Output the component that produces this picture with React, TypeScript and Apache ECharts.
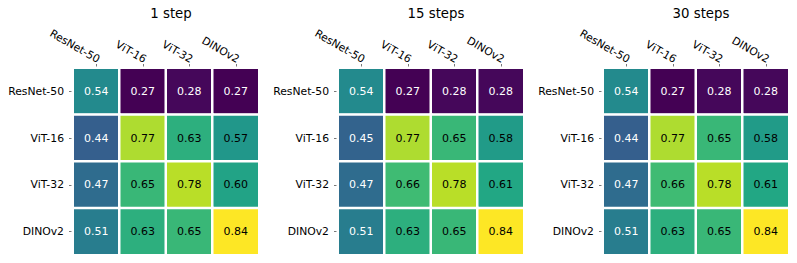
import React, { useEffect, useRef } from "react";
import * as echarts from "echarts";

const models = ["ResNet-50", "ViT-16", "ViT-32", "DINOv2"];
const titles = ["1 step", "15 steps", "30 steps"];

const step1 = [
  [0.54, 0.27, 0.28, 0.27],
  [0.44, 0.77, 0.63, 0.57],
  [0.47, 0.65, 0.78, 0.6],
  [0.51, 0.63, 0.65, 0.84],
];
const step15 = [
  [0.54, 0.27, 0.28, 0.28],
  [0.45, 0.77, 0.65, 0.58],
  [0.47, 0.66, 0.78, 0.61],
  [0.51, 0.63, 0.65, 0.84],
];
const step30 = [
  [0.54, 0.27, 0.28, 0.28],
  [0.44, 0.77, 0.65, 0.58],
  [0.47, 0.66, 0.78, 0.61],
  [0.51, 0.63, 0.65, 0.84],
];
const panels = [step1, step15, step30];

const viridis = [
  "#440154", "#482475", "#414487", "#355f8d", "#2a788e", "#21918c",
  "#22a884", "#44bf70", "#7ad151", "#bddf26", "#fde725",
];

const FONT = "DejaVu Sans";

export default function App() {
  const ref = useRef<HTMLDivElement>(null);
  useEffect(() => {
    document.body.style.margin = "0";
    const chart = echarts.init(ref.current!, null, { renderer: "svg" });
    const lefts = [73, 338, 603];
    const gw = 186;
    const gtop = 68;
    const gh = 187;
    const grids = lefts.map((l) => ({ left: l, top: gtop, width: gw, height: gh }));
    const xAxes = lefts.map((_, i) => ({
      type: "category",
      gridIndex: i,
      position: "top",
      data: models,
      axisLine: { show: false },
      axisTick: { show: true, length: 4, alignWithLabel: true, lineStyle: { color: "#555", width: 0.8 } },
      axisLabel: {
        rotate: 30,
        align: "right",
        verticalAlign: "bottom",
        margin: 3,
        fontFamily: FONT,
        fontSize: 10.8,
        color: "#000",
        interval: 0,
      },
      splitLine: { show: false },
    }));
    const yAxes = lefts.map((_, i) => ({
      type: "category",
      gridIndex: i,
      inverse: true,
      data: models,
      axisLine: { show: false },
      axisTick: { show: true, length: 4, alignWithLabel: true, lineStyle: { color: "#555", width: 0.8 } },
      axisLabel: { margin: 9, fontFamily: FONT, fontSize: 10.8, color: "#000", interval: 0 },
      splitLine: { show: false },
    }));
    const series = panels.map((mat, i) => ({
      type: "heatmap",
      xAxisIndex: i,
      yAxisIndex: i,
      data: mat.flatMap((row, r) =>
        row.map((v, c) => ({
          value: [c, r, v],
          label: { color: v < 0.555 ? "#fff" : "#000" },
        }))
      ),
      itemStyle: { borderColor: "#fff", borderWidth: 2.5 },
      label: {
        show: true,
        fontFamily: FONT,
        fontSize: 11,
        formatter: (p: any) => p.value[2].toFixed(2),
      },
      emphasis: { disabled: true },
    }));
    chart.setOption({
      animation: false,
      backgroundColor: "#fff",
      title: titles.map((t, i) => ({
        text: t,
        left: lefts[i] + gw / 2,
        top: 2,
        textAlign: "center",
        textStyle: { fontFamily: FONT, fontSize: 13.3, fontWeight: "normal", color: "#000" },
      })),
      grid: grids,
      xAxis: xAxes,
      yAxis: yAxes,
      visualMap: {
        show: false,
        min: 0.27,
        max: 0.84,
        dimension: 2,
        seriesIndex: [0, 1, 2],
        inRange: { color: viridis },
      },
      series,
    });
    return () => chart.dispose();
  }, []);
  return <div ref={ref} style={{ width: 797, height: 263 }} />;
}
